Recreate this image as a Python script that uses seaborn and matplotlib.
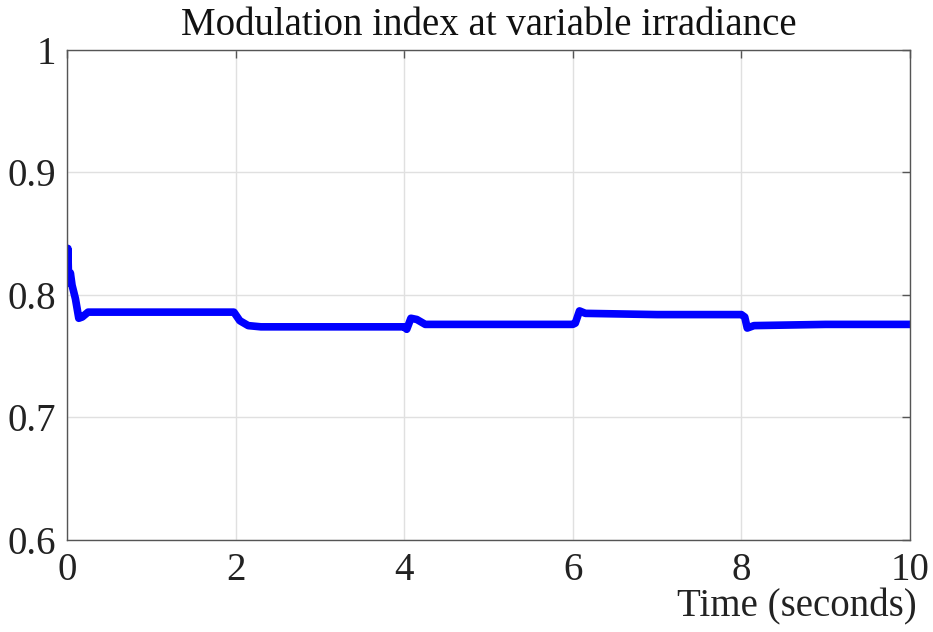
import matplotlib
matplotlib.use("Agg")
import matplotlib.pyplot as plt
import seaborn as sns
import pandas as pd

time_s = [0.0, 0.01, 0.02, 0.04, 0.06, 0.10, 0.14, 0.18, 0.25, 1.0, 1.98, 2.05, 2.15, 2.3, 3.0, 4.0,
          4.03, 4.08, 4.15, 4.25, 5.0, 6.0, 6.03, 6.08, 6.15, 7.0, 8.0, 8.04, 8.07, 8.15, 9.0, 10.0]
mod_index = [0.815, 0.838, 0.810, 0.818, 0.808, 0.797, 0.781, 0.782, 0.786, 0.786, 0.786, 0.779, 0.775, 0.774, 0.774, 0.774,
             0.772, 0.781, 0.780, 0.776, 0.776, 0.776, 0.777, 0.787, 0.785, 0.784, 0.784, 0.782, 0.773, 0.775, 0.776, 0.776]
x_ticks = [0, 2, 4, 6, 8, 10]
y_ticks = [0.6, 0.7, 0.8, 0.9, 1.0]
y_tick_labels = ["0.6", "0.7", "0.8", "0.9", "1"]

df = pd.DataFrame({"t": time_s, "m": mod_index})

sns.set_theme(style="whitegrid")
plt.rcParams["font.family"] = ["Liberation Serif", "DejaVu Serif"]

fig = plt.figure(figsize=(9.33, 6.32), dpi=100)
ax = fig.add_axes([0.0718, 0.1456, 0.9035, 0.7753])
sns.lineplot(data=df, x="t", y="m", ax=ax, color="#0000ff", linewidth=5.5, estimator=None)

ax.set_xlim(0, 10)
ax.set_ylim(0.6, 1.0)
ax.set_xticks(x_ticks)
ax.set_yticks(y_ticks)
ax.set_xticklabels([str(v) for v in x_ticks])
ax.set_yticklabels(y_tick_labels)
ax.grid(True, color="#e0e0e0", linewidth=1.0)
for s in ax.spines.values():
    s.set_color("#555555")
    s.set_linewidth(1.0)
    s.set_visible(True)
ax.tick_params(axis="both", direction="in", length=6, width=1, color="#555555",
               labelsize=28, labelcolor="#222222", top=True, right=True)
ax.tick_params(axis="y", pad=8)
ax.tick_params(axis="x", pad=9)
ax.set_xlabel("")
ax.set_ylabel("")
ax.set_title("Modulation index at variable irradiance", fontsize=28, color="#111111", pad=11)
fig.text(0.983, 1 - 616 / 632, "Time (seconds)", ha="right", va="baseline", fontsize=28, color="#222222")
fig.patch.set_facecolor("white")
ax.set_facecolor("white")
fig.savefig("out.png", dpi=100)
